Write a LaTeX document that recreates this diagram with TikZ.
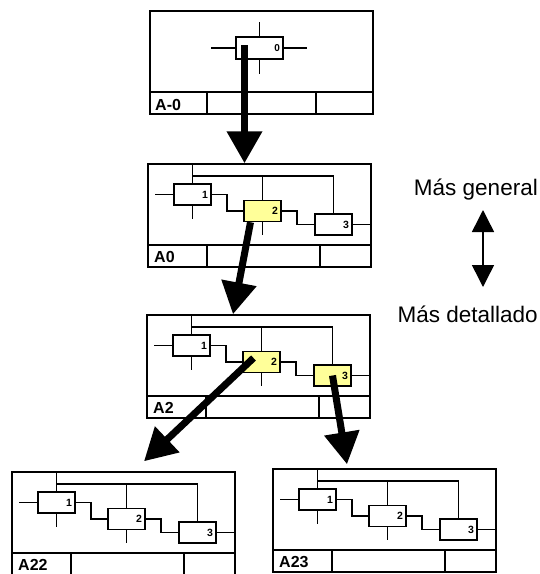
\documentclass[tikz,border=0pt]{standalone}
\usepackage{fontspec}
\setmainfont{Liberation Sans}
\usetikzlibrary{arrows.meta}

\definecolor{paleyellow}{RGB}{255,255,153}

\tikzset{
  frameline/.style={line width=1.5pt},
  wire/.style={line width=1.3pt},
  act/.style={draw, line width=1.5pt, minimum width=37pt, minimum height=21pt,
    text width=31pt, inner xsep=3pt, inner ysep=0pt, align=right,
    font=\bfseries\fontsize{10.5}{11}\selectfont},
  tag/.style={anchor=base west, inner sep=0pt, font=\bfseries\fontsize{16}{17}\selectfont},
  note/.style={anchor=base east, inner sep=0pt, font=\fontsize{22.5}{26}\selectfont},
  bigarrow/.style={line width=7pt, -{Triangle[width=34pt,length=32pt]}},
  pics/level/.style n args={3}{code={
    \node[draw, frameline, minimum width=223pt, minimum height=103pt, inner sep=0pt] (-frame) at (111.5,51.5) {};
    \draw[frameline] (0,81) -- (223,81);
    \draw[frameline] (59,81) -- (59,103);
    \draw[frameline] (172,81) -- (172,103);
    \node[tag] (-tag) at (6,98) {#1};
    \node[act] (-b1) at (44.5,30.5) {1};
    \node[act, fill=#2] (-b2) at (114.5,47) {2};
    \node[act, fill=#3] (-b3) at (185.5,60.5) {3};
    % controls from above
    \draw[wire] (-b1.north) -- (-b1.north |- -frame.north);
    \draw[wire] (-b1.north |- 0,12) -- (-b3.north |- 0,12) -- (-b3.north);
    \draw[wire] (-b2.north |- 0,12) -- (-b2.north);
    % inputs and mechanisms
    \draw[wire] (-b1.west) -- ++(-18,0);
    \draw[wire] (-b1.south) -- ++(0,13);
    \draw[wire] (-b2.south) -- ++(0,13);
    % outputs
    \draw[wire] (-b1.east) -| (79,47) -- (-b2.west);
    \draw[wire] (-b2.east) -| (149,60.5) -- (-b3.west);
    \draw[wire] (-b3.east) -- (-b3.east -| -frame.east);
  }}
}

\begin{document}
\begin{tikzpicture}[x=1pt, y=-1pt]
    \useasboundingbox (0,0) rectangle (540,574);

    % context diagram A-0
    \node[draw, frameline, minimum width=223pt, minimum height=103pt, inner sep=0pt] (ctx) at (261.5,62.5) {};
    \draw[frameline] (150,92) -- (373,92);
    \draw[frameline] (207,92) -- (207,114);
    \draw[frameline] (316,92) -- (316,114);
    \node[tag] (ctxtag) at (155,110) {A-0};
    \node[act, minimum width=47pt, minimum height=22pt, text width=41pt, font=\bfseries\fontsize{10}{11}\selectfont] (b0) at (259.5,48) {0};
    \draw[wire] (b0.west) -- ++(-24,0);
    \draw[wire] (b0.east) -- ++(23,0);
    \draw[wire] (b0.north) -- ++(0,-14);
    \draw[wire] (b0.south) -- ++(0,14);

    % decompositions
    \pic (a0) at (148,164) {level={A0}{paleyellow}{white}};
    \pic (a2) at (147,315) {level={A2}{paleyellow}{paleyellow}};
    \pic (a22) at (12,472) {level={A22}{white}{white}};
    \pic (a23) at (273,469) {level={A23}{white}{white}};

    \draw[bigarrow] ([xshift=-15pt,yshift=3pt]b0.center) -- ([xshift=-15pt]a0-frame.north);
    \draw[bigarrow] ([xshift=-12pt]a0-b2.south) -- ([xshift=-25.5pt]a2-frame.north);
    \draw[bigarrow] ([xshift=-8pt,yshift=4pt]a2-b2.center) -- ([xshift=20.5pt,yshift=10pt]a22-frame.north);
    \draw[bigarrow] (a2-b3.center) -- ([xshift=-37.5pt,yshift=4pt]a23-frame.north);

    % legend
    \node[note] (gen) at (538,195) {Más general};
    \node[note] (det) at (538,322) {Más detallado};
    \coordinate (up) at (483,210);
    \coordinate (down) at (483,287);
    \draw[line width=1.5pt, {Triangle[width=22pt,length=22pt]}-{Triangle[width=22pt,length=22pt]}] (up) -- (down);
\end{tikzpicture}
\end{document}
